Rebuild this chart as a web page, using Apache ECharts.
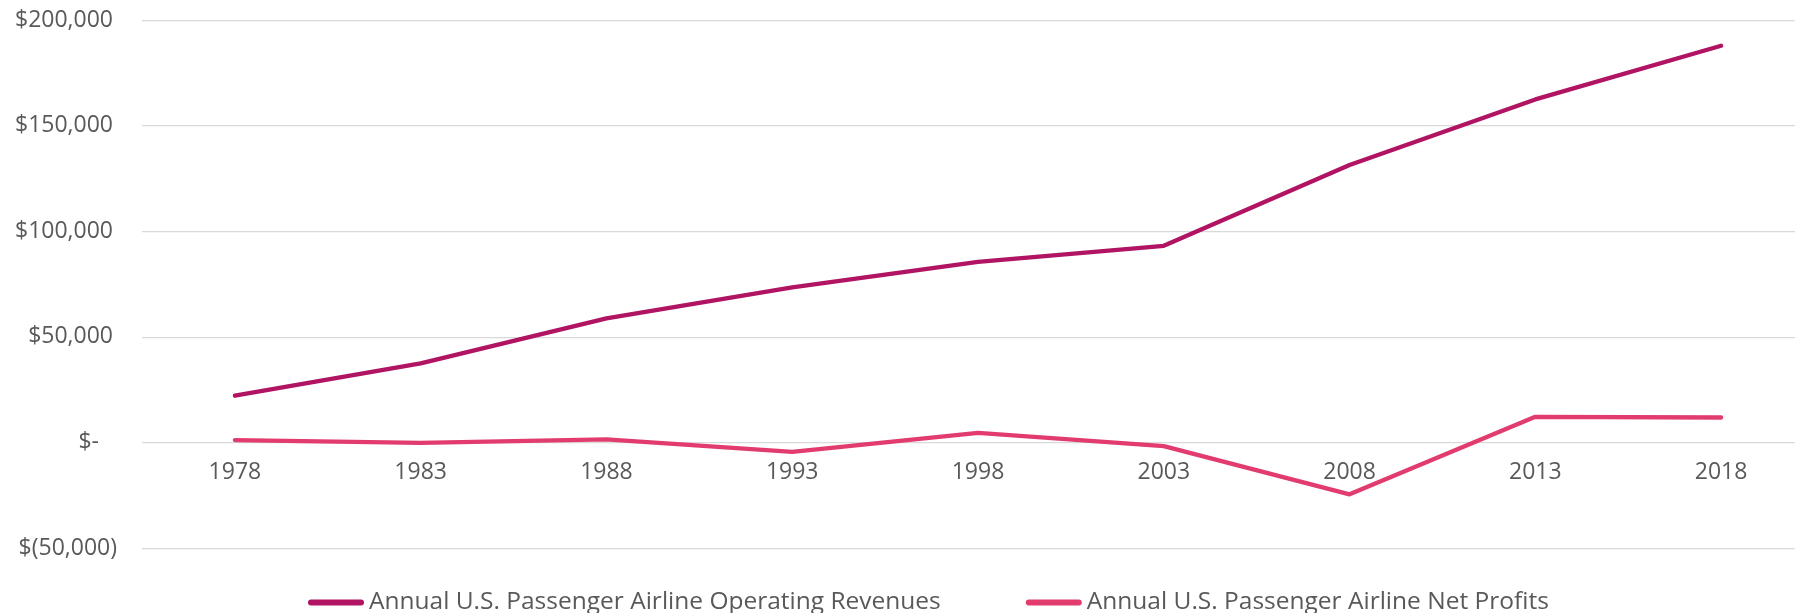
<!DOCTYPE html>
<html>
<head>
<meta charset="utf-8">
<script src="https://cdn.jsdelivr.net/npm/echarts@6/dist/echarts.min.js"></script>
<style>
  html, body { margin: 0; padding: 0; background: #fff; }
  #chart { width: 1795px; height: 613px; }
</style>
</head>
<body>
<div id="chart"></div>
<script>
var years = ['1978', '1983', '1988', '1993', '1998', '2003', '2008', '2013', '2018'];
var revenues = [22100, 37400, 58700, 73400, 85500, 93100, 131300, 162400, 187800];
var netProfits = [1100, -200, 1400, -4450, 4550, -1750, -24600, 12100, 11800];
var revenueName = 'Annual U.S. Passenger Airline Operating Revenues';
var profitName = 'Annual U.S. Passenger Airline Net Profits';

var textColor = '#595959';
var gridColor = '#d9d9d9';
var fontFamily = '"Open Sans", sans-serif';

function money(v) {
  if (v === 0) return '{z|$-}';
  var s = Math.abs(v).toLocaleString('en-US');
  return v < 0 ? '{n|$(' + s + ')}' : '{p|$' + s + '}';
}

var chart = echarts.init(document.getElementById('chart'));
chart.setOption({
  animation: false,
  grid: { left: 142, right: -19, top: 20, bottom: 65, outerBoundsMode: 'none' },
  legend: {
    left: 303,
    top: 585,
    itemWidth: 56,
    itemHeight: 6,
    itemGap: 85,
    icon: 'path://M3,0 H53 A3,3 0 0 1 53,6 H3 A3,3 0 0 1 3,0 Z',
    textStyle: { color: textColor, fontSize: 24.5, fontFamily: fontFamily },
    data: [revenueName, profitName]
  },
  xAxis: {
    type: 'category',
    data: years,
    boundaryGap: true,
    // labels sit under the zero line, like the Excel original
    offset: -105.6,
    axisTick: { show: false },
    axisLine: { show: false, onZero: false },
    axisLabel: { color: textColor, fontSize: 23, fontFamily: fontFamily, margin: 19 }
  },
  yAxis: {
    type: 'value',
    min: -50000,
    max: 200000,
    interval: 50000,
    axisLine: { show: false },
    axisTick: { show: false },
    splitLine: { lineStyle: { color: gridColor, width: 1.25 } },
    axisLabel: {
      color: textColor,
      fontSize: 23,
      fontFamily: fontFamily,
      margin: 25,
      formatter: money,
      rich: {
        p: { padding: [0, 4, 0, 0] },
        z: { padding: [0, 18, 0, 0] },
        n: {}
      }
    }
  },
  series: [
    {
      name: revenueName,
      type: 'line',
      data: revenues,
      showSymbol: false,
      color: '#b01462',
      lineStyle: { width: 4.3, color: '#b01462', cap: 'round', join: 'round' }
    },
    {
      name: profitName,
      type: 'line',
      data: netProfits,
      showSymbol: false,
      color: '#e23c6f',
      lineStyle: { width: 4.3, color: '#e23c6f', cap: 'round', join: 'round' }
    }
  ]
});
</script>
</body>
</html>
